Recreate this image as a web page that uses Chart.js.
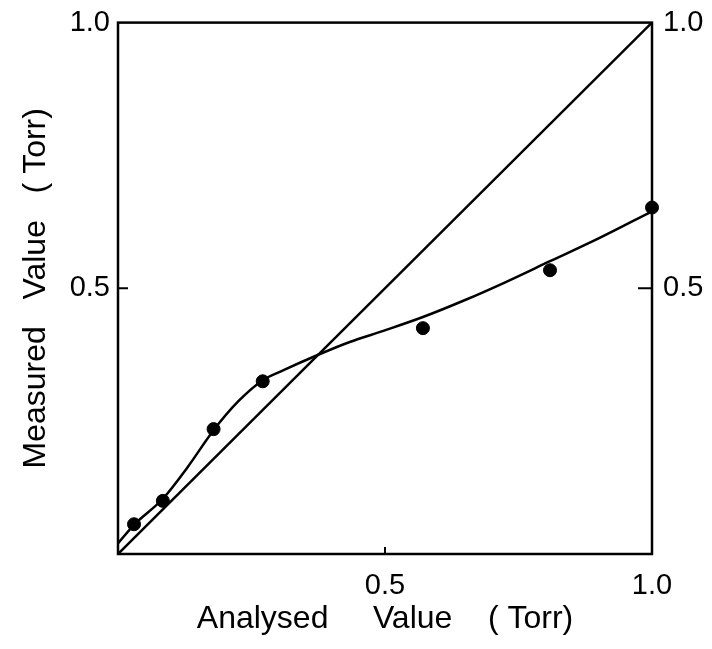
<!DOCTYPE html>
<html>
<head>
<meta charset="utf-8">
<script src="https://cdn.jsdelivr.net/npm/chart.js@4"></script>
<style>
  html, body { margin: 0; padding: 0; background: #fff; }
  #wrap { width: 712px; height: 649px; }
</style>
</head>
<body>
<div id="wrap"><canvas id="calibChart"></canvas></div>
<script>
// measured points (analysed value vs measured value, Torr)
const pointX = [0.03, 0.084, 0.179, 0.271, 0.571, 0.809, 1.0];
const pointY = [0.056, 0.100, 0.235, 0.325, 0.425, 0.534, 0.652];

// hand-drawn fitted curve
const curveX = [0, 0.03, 0.084, 0.13, 0.179, 0.225, 0.271, 0.31, 0.375, 0.434, 0.497, 0.571, 0.65, 0.72, 0.809, 0.9, 1.0];
const curveY = [0.020, 0.055, 0.104, 0.163, 0.233, 0.287, 0.327, 0.346, 0.375, 0.399, 0.420, 0.446, 0.478, 0.509, 0.551, 0.594, 0.645];

// ideal line y = x
const idealX = [0, 1.0];
const idealY = [0, 1.0];

const tickValues = [0.5, 1.0];
const tickLabels = ['0.5', '1.0'];

const xTitle = 'Analysed     Value    ( Torr)';
const yTitle = 'Measured   Value   ( Torr)';

const FONT = "'Liberation Sans', Arial, sans-serif";

document.addEventListener('DOMContentLoaded', function () {
    const canvas = document.getElementById('calibChart');
    const ctx = canvas.getContext('2d');

    const toXY = (xs, ys) => xs.map((x, i) => ({ x: x, y: ys[i] }));
    const setTicks = scale => { scale.ticks = tickValues.map(v => ({ value: v })); };
    const tickText = value => tickLabels[tickValues.indexOf(value)] ?? '';

    const tickFont = { family: FONT, size: 29, lineHeight: 0.8 };

    new Chart(ctx, {
        type: 'scatter',
        data: {
            datasets: [
                {
                    label: 'ideal',
                    data: toXY(idealX, idealY),
                    showLine: true,
                    borderColor: '#000',
                    borderWidth: 2.5,
                    pointRadius: 0
                },
                {
                    label: 'fit',
                    data: toXY(curveX, curveY),
                    showLine: true,
                    borderColor: '#000',
                    borderWidth: 2.5,
                    pointRadius: 0,
                    cubicInterpolationMode: 'monotone'
                },
                {
                    label: 'measured',
                    data: toXY(pointX, pointY),
                    backgroundColor: '#000',
                    borderColor: '#000',
                    pointRadius: 6.5,
                    clip: false
                }
            ]
        },
        options: {
            responsive: true,
            maintainAspectRatio: false,
            animation: false,
            layout: {
                padding: { top: 12, right: 0, bottom: 0, left: 0 }
            },
            scales: {
                x: {
                    type: 'linear',
                    position: 'bottom',
                    min: 0,
                    max: 1,
                    afterBuildTicks: setTicks,
                    afterFit: scale => { scale.height = 95; },
                    grid: { display: false, drawTicks: false },
                    border: { display: false },
                    ticks: {
                        color: '#000',
                        font: tickFont,
                        padding: 20,
                        maxRotation: 0,
                        callback: tickText
                    },
                    title: {
                        display: true,
                        text: xTitle,
                        color: '#000',
                        font: { family: FONT, size: 32 },
                        padding: { top: 0, bottom: 11 }
                    }
                },
                y: {
                    type: 'linear',
                    position: 'left',
                    min: 0,
                    max: 1,
                    afterBuildTicks: setTicks,
                    afterFit: scale => { scale.width = 118; },
                    grid: { display: false, drawTicks: false },
                    border: { display: false },
                    ticks: {
                        color: '#000',
                        font: tickFont,
                        padding: 8,
                        callback: tickText
                    },
                    title: {
                        display: true,
                        text: yTitle,
                        color: '#000',
                        font: { family: FONT, size: 32 },
                        padding: { top: 17, bottom: 0 }
                    }
                },
                y2: {
                    type: 'linear',
                    position: 'right',
                    min: 0,
                    max: 1,
                    afterBuildTicks: setTicks,
                    afterFit: scale => { scale.width = 60; },
                    grid: { display: false, drawTicks: false },
                    border: { display: false },
                    ticks: {
                        color: '#000',
                        font: tickFont,
                        padding: 11,
                        callback: tickText
                    }
                }
            },
            plugins: {
                legend: { display: false },
                tooltip: { enabled: false }
            }
        },
        plugins: [{
            id: 'frame',
            beforeDatasetsDraw: (chart) => {
                const c = chart.ctx;
                const area = chart.chartArea;
                const xs = chart.scales.x;
                const ys = chart.scales.y;

                c.save();
                c.strokeStyle = '#000';
                c.lineWidth = 2.5;
                c.strokeRect(area.left, area.top, area.right - area.left, area.bottom - area.top);

                // short inward ticks at 0.5
                c.lineWidth = 2;
                const yMid = ys.getPixelForValue(0.5);
                const xMid = xs.getPixelForValue(0.5);
                c.beginPath();
                c.moveTo(area.left, yMid);
                c.lineTo(area.left + 10, yMid);
                c.moveTo(area.right, yMid);
                c.lineTo(area.right - 14, yMid);
                c.moveTo(xMid, area.bottom);
                c.lineTo(xMid, area.bottom - 7);
                c.stroke();
                c.restore();
            }
        }]
    });
});
</script>
</body>
</html>
